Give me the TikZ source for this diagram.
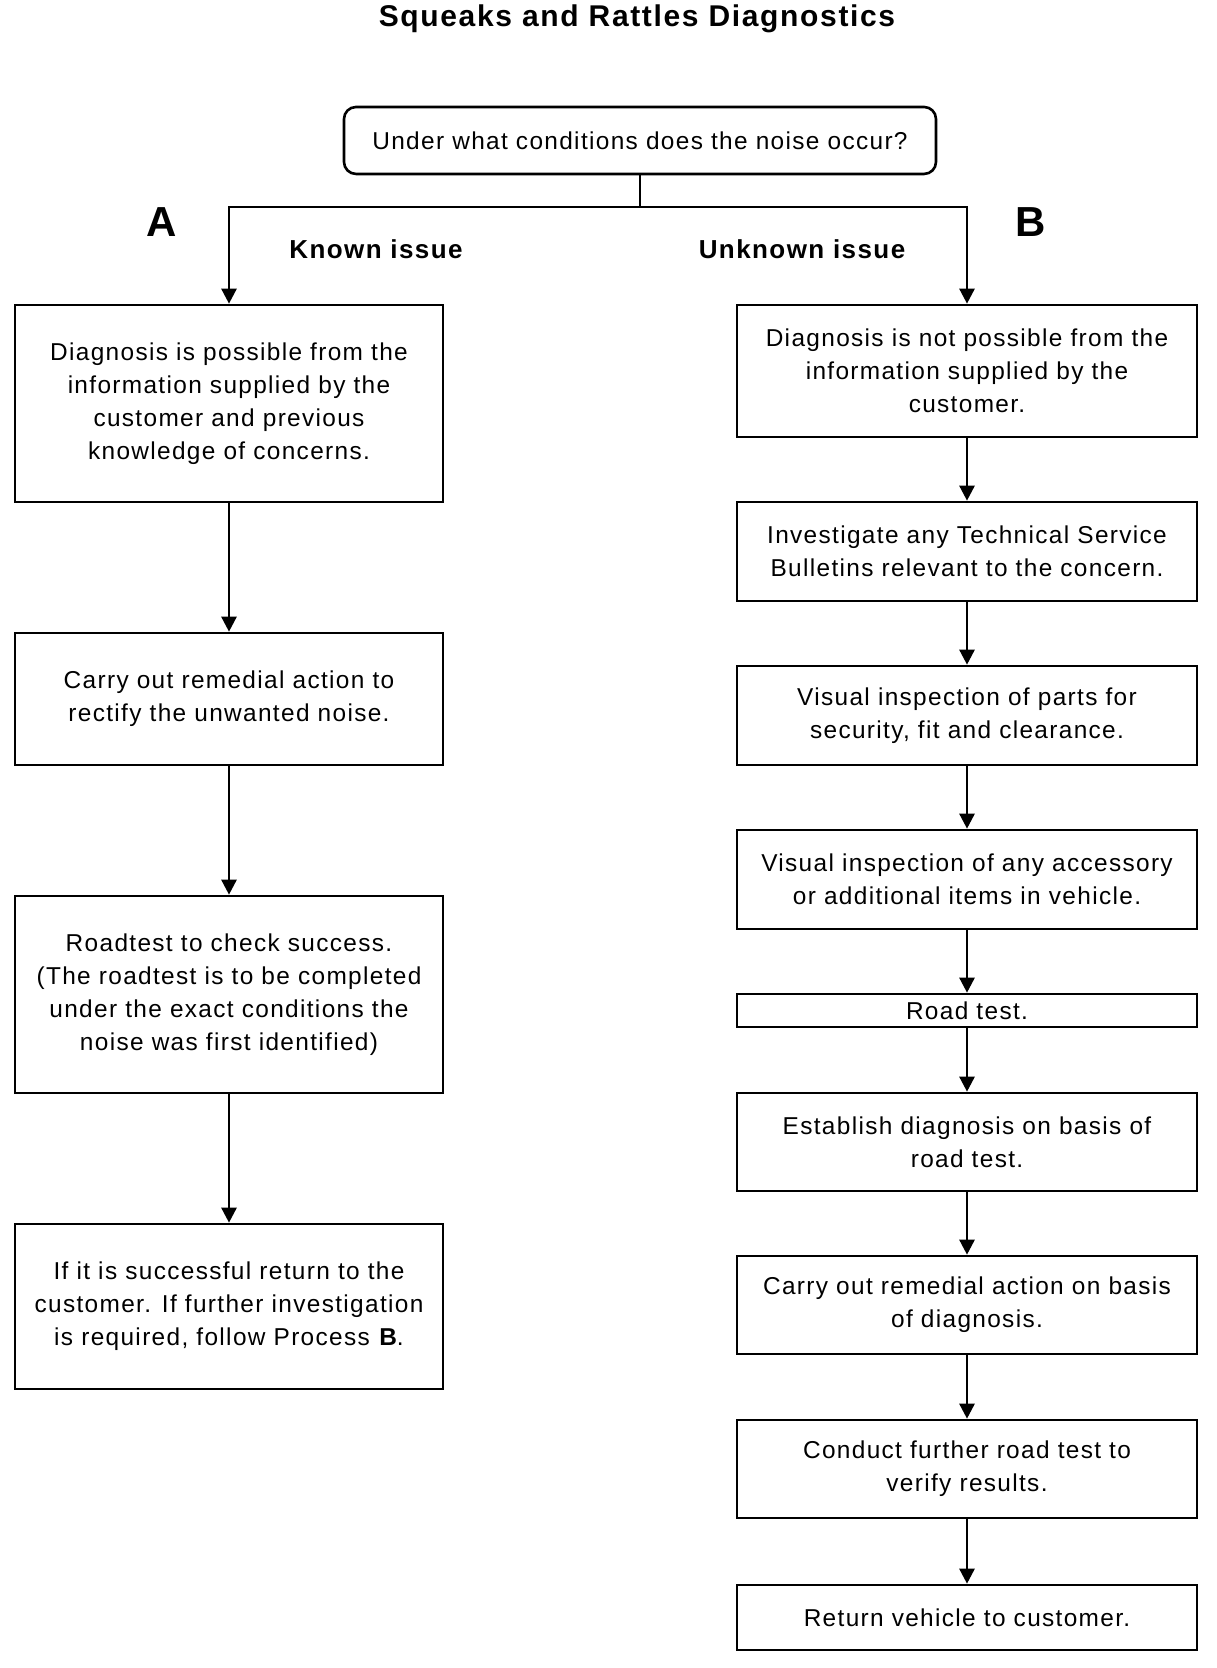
\documentclass[tikz,border=0pt]{standalone}
\usepackage{fontspec}
\setmainfont[LetterSpace=5.5]{Liberation Sans}
\usetikzlibrary{arrows.meta}
\begin{document}
\begin{tikzpicture}[x=1pt, y=1pt,
  line width=1.3pt,
  >={Triangle[width=7.5pt,length=7.5pt]},
  stepbox/.style={draw, rectangle, align=center, inner sep=2pt,
    font=\fontsize{12.2}{16.5}\selectfont},
  leftbox/.style={stepbox, minimum width=214pt},
  rightbox/.style={stepbox, minimum width=230pt},
  branch/.style={font=\bfseries\fontsize{13}{15}\selectfont},
  letter/.style={font=\bfseries\fontsize{21}{24}\selectfont}]
\useasboundingbox (0,0) rectangle (608,834);

\node[font=\bfseries\fontsize{15}{18}\selectfont] (title) at (318.5,824.5) {Squeaks and Rattles Diagnostics};

\node[stepbox, rounded corners=6pt, minimum width=296pt, minimum height=33.5pt] (top) at (320,763.75) {Under what conditions does the noise occur?};
\coordinate (fork) at (320,730.5);

\node[letter] (A) at (81,723) {A};
\node[letter] (B) at (515.5,723) {B};
\node[branch] (known) at (188,709.5) {Known issue};
\node[branch] (unknown) at (401,709.5) {Unknown issue};

% process A
\node[leftbox, minimum height=98.5pt] (l1) at (114.5,632.25) {Diagnosis is possible from the\\information supplied by the\\customer and previous\\knowledge of concerns.};
\node[leftbox, minimum height=66pt] (l2) at (114.5,484.5) {Carry out remedial action to\\rectify the unwanted noise.};
\node[leftbox, minimum height=98.5pt] (l3) at (114.5,336.75) {Roadtest to check success.\\(The roadtest is to be completed\\under the exact conditions the\\noise was first identified)};
\node[leftbox, minimum height=82.5pt] (l4) at (114.5,180.75) {If it is successful return to the\\customer. If further investigation\\is required, follow Process \textbf{B}.};

% process B
\node[rightbox, minimum height=66pt] (r1) at (483.5,648.5) {Diagnosis is not possible from the\\information supplied by the\\customer.};
\node[rightbox, minimum height=49.5pt] (r2) at (483.5,558.25) {Investigate any Technical Service\\Bulletins relevant to the concern.};
\node[rightbox, minimum height=49.5pt] (r3) at (483.5,476.25) {Visual inspection of parts for\\security, fit and clearance.};
\node[rightbox, minimum height=49.5pt] (r4) at (483.5,394.25) {Visual inspection of any accessory\\or additional items in vehicle.};
\node[rightbox, minimum height=16.5pt, inner sep=1pt] (r5) at (483.5,328.75) {Road test.};
\node[rightbox, minimum height=49pt] (r6) at (483.5,263) {Establish diagnosis on basis of\\road test.};
\node[rightbox, minimum height=49pt] (r7) at (483.5,181.5) {Carry out remedial action on basis\\of diagnosis.};
\node[rightbox, minimum height=49pt] (r8) at (483.5,99.5) {Conduct further road test to\\verify results.};
\node[rightbox, minimum height=32.5pt] (r9) at (483.5,25.25) {Return vehicle to customer.};

\draw (top) -- (fork);
\draw[->] (fork) -| (l1);
\draw[->] (fork) -| (r1);
\foreach \a/\b in {l1/l2, l2/l3, l3/l4}
  \draw[->] (\a) -- (\b);
\foreach \a/\b in {r1/r2, r2/r3, r3/r4, r4/r5, r5/r6, r6/r7, r7/r8, r8/r9}
  \draw[->] (\a) -- (\b);
\end{tikzpicture}
\end{document}
